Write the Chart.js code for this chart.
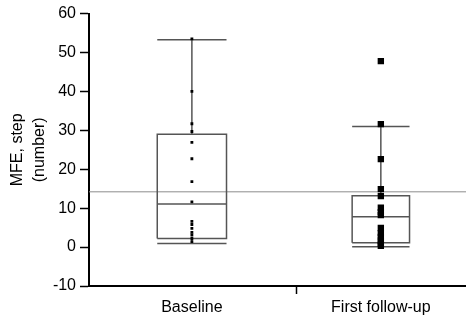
<!DOCTYPE html>
<html>
<head>
<meta charset="utf-8">
<script src="https://cdn.jsdelivr.net/npm/chart.js@4.4.1/dist/chart.umd.min.js"></script>
<style>
html, body { margin: 0; padding: 0; background: #fff; overflow: hidden; width: 466px; height: 320px; }
canvas { display: block; }
</style>
</head>
<body>
<canvas id="chart" width="509" height="320"></canvas>
<script>
const groups = ['Baseline', 'First follow-up'];
const baselineValues = [53.5, 40, 31.7, 29.7, 26.9, 22.7, 16.8, 11.6, 6.6, 5.8, 4.8, 3.8, 3.1, 2.2, 1.4];
const followUpValues = [47.8, 31.6, 22.6, 14.9, 13.1, 10.1, 9.0, 8.2, 4.9, 3.6, 2.6, 1.7, 0.9, 0.3];
const whiskerLow = [0.95, 0.1];
const quartile1 = [2.2, 1.1];
const medians = [11.1, 7.8];
const quartile3 = [29.0, 13.2];
const whiskerHigh = [53.3, 31.0];
const referenceValue = 14.2;

// where the two groups sit on the linear x axis
const centers = [1.04, 2.95];
const halfWidths = [0.35, 0.29];
const divider = 2.1;
const xMax = 4.2;

const fontFamily = '"Liberation Sans", Arial, sans-serif';

// box, median, whiskers and caps as one line with gaps
function boxOutline(i) {
	let c = centers[i], h = halfWidths[i];
	let gap = {x: c, y: null};
	return [
		{x: c - h, y: quartile1[i]}, {x: c + h, y: quartile1[i]}, {x: c + h, y: quartile3[i]},
		{x: c - h, y: quartile3[i]}, {x: c - h, y: quartile1[i]}, gap,
		{x: c - h, y: medians[i]}, {x: c + h, y: medians[i]}, gap,
		{x: c, y: quartile3[i]}, {x: c, y: whiskerHigh[i]}, gap,
		{x: c - h, y: whiskerHigh[i]}, {x: c + h, y: whiskerHigh[i]}, gap,
		{x: c, y: quartile1[i]}, {x: c, y: whiskerLow[i]}, gap,
		{x: c - h, y: whiskerLow[i]}, {x: c + h, y: whiskerLow[i]}
	];
}

function outlineDataset(i) {
	return {
		data: boxOutline(i),
		borderColor: '#555',
		borderWidth: 1.5,
		pointRadius: 0,
		spanGaps: false,
		tension: 0,
		order: 2
	};
}

function pointsDataset(i, values, radius) {
	return {
		data: values.map((v) => ({x: centers[i], y: v})),
		showLine: false,
		pointStyle: 'rect',
		pointRadius: radius,
		pointBackgroundColor: '#000',
		pointBorderWidth: 0,
		order: 0
	};
}

let ctx = document.getElementById('chart').getContext('2d');
let chart = new Chart(ctx, {
	type: 'line',
	data: {
		datasets: [
			{
				data: [{x: 0, y: referenceValue}, {x: xMax, y: referenceValue}],
				borderColor: '#8c8c8c',
				borderWidth: 1,
				pointRadius: 0,
				order: 3
			},
			outlineDataset(0),
			outlineDataset(1),
			pointsDataset(0, baselineValues, 2),
			pointsDataset(1, followUpValues, 4.5)
		]
	},
	options: {
		responsive: false,
		animation: false,
		layout: {padding: {top: 13, right: 0, bottom: 0, left: 0}},
		plugins: {
			legend: {display: false},
			tooltip: {enabled: false}
		},
		scales: {
			x: {
				type: 'linear',
				min: 0,
				max: xMax,
				afterBuildTicks: (scale) => {
					scale.ticks = [{value: centers[0]}, {value: divider}, {value: centers[1]}];
				},
				afterFit: (scale) => { scale.height = 34; },
				grid: {
					drawOnChartArea: false,
					drawTicks: true,
					tickLength: 8,
					tickWidth: 1.5,
					tickColor: (c) => (c.tick && c.tick.value === divider) ? '#000' : 'rgba(0,0,0,0)'
				},
				border: {color: '#000', width: 2},
				ticks: {
					autoSkip: false,
					maxRotation: 0,
					padding: 4,
					color: '#000',
					font: {family: fontFamily, size: 16},
					callback: (v) => v === centers[0] ? groups[0] : (v === centers[1] ? groups[1] : '')
				}
			},
			y: {
				min: -10,
				max: 60,
				afterFit: (scale) => { scale.width = 89; },
				grid: {
					drawOnChartArea: false,
					tickLength: 9,
					tickWidth: 1.5,
					tickColor: '#000'
				},
				border: {color: '#000', width: 2},
				ticks: {
					stepSize: 10,
					padding: 4,
					color: '#000',
					font: {family: fontFamily, size: 16}
				},
				title: {
					display: true,
					text: ['MFE, step', '(number)'],
					color: '#000',
					font: {family: fontFamily, size: 16, lineHeight: 1.4},
					padding: {top: 6, bottom: 0}
				}
			}
		}
	}
});
</script>
</body>
</html>
